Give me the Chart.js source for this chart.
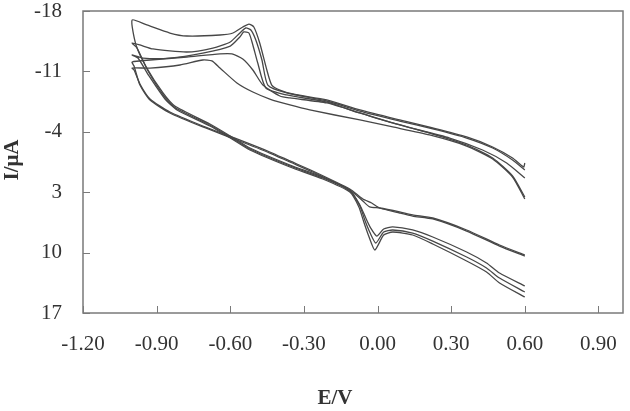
<!DOCTYPE html>
<html>
<head>
<meta charset="utf-8">
<script src="https://cdn.jsdelivr.net/npm/chart.js@4.4.1/dist/chart.umd.min.js"></script>
<style>
  html, body { margin: 0; padding: 0; background: #fff; }
  #wrap { width: 630px; height: 411px; }
</style>
</head>
<body>
<div id="wrap"><canvas id="cv"></canvas></div>
<script>
// potential E (V), current I (uA); forward scan -1.0 -> 0.6, reverse scan 0.6 -> -1.0
const cycleAFwd = [[-1.00,-16.96],[-0.94,-16.38],[-0.846,-15.45],[-0.777,-15.10],[-0.642,-15.22],[-0.589,-15.45],[-0.549,-16.15],[-0.524,-16.49],[-0.504,-16.15],[-0.48,-14.29],[-0.451,-11.16],[-0.431,-9.42],[-0.398,-8.84],[-0.345,-8.38],[-0.207,-7.69],[-0.072,-6.53],[0.09,-5.37],[0.225,-4.44],[0.363,-3.40],[0.469,-2.24],[0.55,-0.96],[0.595,0.08],[0.60,-0.38]];
const cycleARev = [[0.60,13.87],[0.497,12.37],[0.444,11.20],[0.363,9.93],[0.225,8.19],[0.143,7.38],[0.062,7.03],[0.025,7.27],[-0.003,8.08],[-0.028,7.15],[-0.048,5.99],[-0.072,4.48],[-0.113,2.74],[-0.223,1.24],[-0.357,-0.15],[-0.52,-2.12],[-0.60,-3.51],[-0.683,-4.90],[-0.826,-6.99],[-0.874,-8.50],[-0.94,-11.39],[-0.984,-14.06]];

const cycleBFwd = [[-1.00,-14.29],[-0.968,-14.06],[-0.915,-13.60],[-0.777,-13.25],[-0.671,-13.71],[-0.60,-14.41],[-0.561,-15.45],[-0.537,-16.03],[-0.516,-15.80],[-0.496,-14.64],[-0.471,-12.32],[-0.447,-9.42],[-0.37,-8.50],[-0.207,-7.57],[-0.072,-6.41],[0.09,-5.25],[0.225,-4.33],[0.363,-3.28],[0.469,-2.12],[0.55,-0.73],[0.60,0.43]];
const cycleBRev = [[0.60,14.57],[0.497,12.95],[0.444,11.78],[0.363,10.51],[0.225,8.66],[0.143,7.73],[0.062,7.38],[0.025,7.61],[-0.007,8.89],[-0.032,7.61],[-0.052,6.22],[-0.072,4.60],[-0.113,2.86],[-0.223,1.35],[-0.357,-0.04],[-0.52,-2.01],[-0.60,-3.40],[-0.683,-4.79],[-0.822,-6.76],[-0.87,-8.15],[-0.935,-11.05],[-0.98,-13.71]];

const cycleCFwd = [[-1.00,-12.90],[-0.956,-12.55],[-0.846,-12.55],[-0.712,-13.13],[-0.60,-13.94],[-0.561,-14.99],[-0.545,-15.57],[-0.524,-15.45],[-0.508,-14.06],[-0.488,-11.97],[-0.455,-9.08],[-0.37,-8.27],[-0.207,-7.45],[-0.072,-6.18],[0.09,-4.79],[0.294,-3.28],[0.428,-1.89],[0.526,-0.38],[0.60,1.35]];
const cycleCRev = [[0.60,15.15],[0.497,13.52],[0.444,12.25],[0.363,10.97],[0.225,9.00],[0.143,7.96],[0.062,7.61],[0.025,7.96],[-0.011,9.70],[-0.036,8.08],[-0.056,6.45],[-0.076,4.71],[-0.113,2.98],[-0.223,1.47],[-0.357,0.08],[-0.52,-1.89],[-0.60,-3.28],[-0.683,-4.67],[-0.817,-6.53],[-0.866,-7.80],[-0.931,-10.47],[-0.976,-12.55]];

const cycleDFwd = [[-1.00,-12.09],[-0.927,-12.32],[-0.777,-12.67],[-0.642,-13.02],[-0.593,-13.02],[-0.549,-12.44],[-0.508,-11.16],[-0.467,-9.42],[-0.398,-8.15],[-0.357,-7.92],[-0.207,-7.34],[-0.072,-6.18],[0.062,-5.02],[0.212,-3.86],[0.363,-2.47],[0.469,-0.96],[0.55,1.12],[0.60,3.56]];
const cycleDRev = [[0.60,10.28],[0.497,9.12],[0.363,7.38],[0.225,5.99],[0.143,5.64],[0.09,5.29],[0.009,4.83],[-0.032,4.71],[-0.06,4.02],[-0.113,2.74],[-0.264,0.66],[-0.357,-0.50],[-0.439,-1.54],[-0.573,-3.05],[-0.712,-4.56],[-0.846,-6.18],[-0.927,-7.69],[-0.968,-9.42],[-0.992,-11.62]];

const cycleEFwd = [[-1.00,-11.39],[-0.927,-11.39],[-0.805,-11.74],[-0.712,-12.32],[-0.675,-12.21],[-0.642,-11.39],[-0.573,-9.66],[-0.508,-8.61],[-0.439,-7.80],[-0.357,-7.11],[-0.276,-6.53],[-0.072,-5.37],[0.062,-4.56],[0.212,-3.63],[0.363,-2.35],[0.469,-0.85],[0.55,1.24],[0.60,3.79]];
const cycleERev = [[0.60,10.40],[0.497,9.24],[0.363,7.50],[0.225,6.10],[0.143,5.76],[0.09,5.41],[0.009,4.83],[-0.024,4.25],[-0.06,3.79],[-0.113,2.63],[-0.264,0.54],[-0.357,-0.62],[-0.439,-1.66],[-0.573,-3.17],[-0.712,-4.67],[-0.846,-6.29],[-0.927,-7.80],[-0.968,-9.54],[-0.992,-11.16]];

const xTicks = [-1.2, -0.9, -0.6, -0.3, 0, 0.3, 0.6, 0.9];
const yTicks = [-18, -11, -4, 3, 10, 17];
const xTitle = 'E/V';
const yTitle = 'I/\u03bcA';

const cycles = [
    [cycleARev, cycleAFwd],
    [cycleBRev, cycleBFwd],
    [cycleCRev, cycleCFwd],
    [cycleDRev, cycleDFwd],
    [cycleERev, cycleEFwd]
];

const serif = '"Liberation Serif", "Times New Roman", serif';

const framePlugin = {
    id: 'frame',
    afterDatasetsDraw(chart) {
        const ctx = chart.ctx;
        const a = chart.chartArea;
        const sx = chart.scales.x;
        const sy = chart.scales.y;
        ctx.save();
        ctx.strokeStyle = '#7a7a7a';
        ctx.lineWidth = 1.5;
        ctx.strokeRect(a.left, a.top, a.right - a.left, a.bottom - a.top);
        ctx.beginPath();
        xTicks.forEach(function (v) {
            const px = Math.round(sx.getPixelForValue(v)) + 0.5;
            ctx.moveTo(px, a.bottom);
            ctx.lineTo(px, a.bottom - 7);
        });
        yTicks.forEach(function (v) {
            const py = Math.round(sy.getPixelForValue(v)) + 0.5;
            ctx.moveTo(a.left, py);
            ctx.lineTo(a.left + 7, py);
        });
        ctx.lineWidth = 1;
        ctx.stroke();

        // axis titles
        ctx.fillStyle = '#333';
        ctx.font = 'bold 21px ' + serif;
        ctx.textAlign = 'center';
        ctx.textBaseline = 'middle';
        ctx.fillText(xTitle, 335, 399);
        ctx.translate(13, 160);
        ctx.rotate(-Math.PI / 2);
        ctx.fillText(yTitle, 0, 0);
        ctx.restore();
    }
};

new Chart(document.getElementById('cv'), {
    type: 'scatter',
    data: {
        datasets: cycles.map(function (c) {
            return {
                data: c[0].concat(c[1]).map(function (p) { return { x: p[0], y: p[1] }; }),
                showLine: true,
                borderColor: '#474747',
                borderWidth: 1.3,
                pointRadius: 0,
                tension: 0.2,
                fill: false
            };
        })
    },
    options: {
        responsive: true,
        maintainAspectRatio: false,
        animation: false,
        devicePixelRatio: 1,
        layout: { padding: { left: 0, top: 11, right: 7, bottom: 0 } },
        plugins: {
            legend: { display: false },
            tooltip: { enabled: false }
        },
        scales: {
            x: {
                type: 'linear',
                min: -1.2,
                max: 1.0,
                grid: { display: false, drawTicks: false },
                border: { display: false },
                afterBuildTicks: function (scale) {
                    scale.ticks = xTicks.map(function (v) { return { value: v }; });
                },
                afterFit: function (scale) {
                    scale.height = 98;
                    scale.paddingLeft = 0;
                    scale.paddingRight = 0;
                },
                ticks: {
                    padding: 19,
                    color: '#333',
                    font: { family: serif, size: 21 },
                    maxRotation: 0,
                    autoSkip: false,
                    callback: function (v) { return Number(v).toFixed(2); }
                }
            },
            y: {
                type: 'linear',
                min: -18,
                max: 17,
                reverse: true,
                grid: { display: false, drawTicks: false },
                border: { display: false },
                afterBuildTicks: function (scale) {
                    scale.ticks = yTicks.map(function (v) { return { value: v }; });
                },
                afterFit: function (scale) {
                    scale.width = 83;
                    scale.paddingTop = 0;
                    scale.paddingBottom = 0;
                },
                ticks: {
                    padding: 21,
                    color: '#333',
                    font: { family: serif, size: 21, lineHeight: 1 },
                    autoSkip: false,
                    callback: function (v) { return String(v); }
                }
            }
        }
    },
    plugins: [framePlugin]
});
</script>
</body>
</html>
